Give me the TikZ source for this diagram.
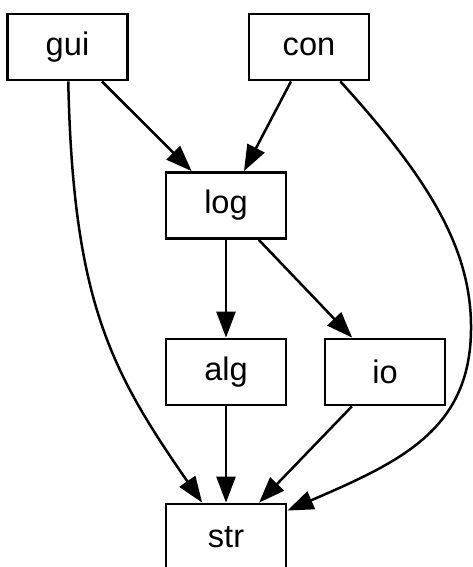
\documentclass[tikz,border=0pt]{standalone}
\usepackage{fontspec}
\setmainfont{Liberation Sans}
\usepackage{tikz}
\usetikzlibrary{arrows.meta}

\tikzset{
	mod/.style={draw, line width=1.4pt, minimum width=60pt, minimum height=33pt, inner sep=0pt, font=\fontsize{16.3}{19}\selectfont},
	dep/.style={line width=1.25pt, -{Triangle[length=13pt, width=9.5pt]}}
}

\begin{document}
\begin{tikzpicture}[x=0.5pt, y=-0.5pt]
			\useasboundingbox (0, 0) rectangle (472, 567);
			
			\node[mod] (gui) at (67.5, 47) {gui};
			\node[mod] (con) at (309, 47) {con};
			\node[mod] (log) at (226, 205.5) {log};
			\node[mod] (alg) at (226, 372) {alg};
			\node[mod] (io)  at (385, 372) {io};
			\node[mod] (str) at (226, 537) {str};
			
			\draw[dep] (gui) -- (log);
			\draw[dep] (con) -- (log);
			\draw[dep] (log) -- (alg);
			\draw[dep] (log) -- (io);
			\draw[dep] (alg) -- (str);
			\draw[dep] (io) -- (str);
			
			% long edges round the middle ranks
			\draw[dep] (gui) .. controls (73, 300) and (110, 370) .. (str);
			\draw[dep] (con) .. controls (430, 180) and (472, 250) .. (471, 330) .. controls (470, 430) and (400, 462) .. (str);
		\end{tikzpicture}
\end{document}
